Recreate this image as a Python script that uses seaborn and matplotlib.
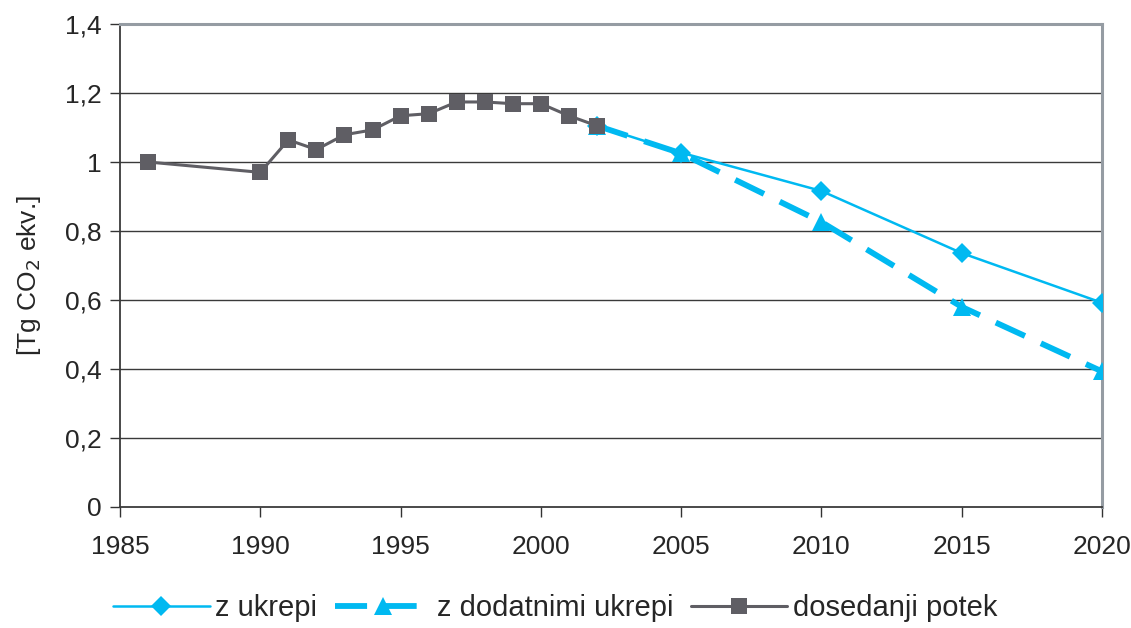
import matplotlib
matplotlib.use("Agg")
import matplotlib.pyplot as plt
from matplotlib.ticker import FuncFormatter
import seaborn as sns
import pandas as pd

# Historical emissions (Tg CO2 eq.)
hist_years = [1986, 1990, 1991, 1992, 1993, 1994, 1995, 1996, 1997, 1998, 1999, 2000, 2001, 2002]
hist_values = [1.0, 0.97, 1.064, 1.036, 1.079, 1.093, 1.134, 1.14, 1.174, 1.174, 1.169, 1.169, 1.134, 1.105]

# Projections
proj_years = [2002, 2005, 2010, 2015, 2020]
with_measures = [1.105, 1.027, 0.916, 0.736, 0.592]
with_additional = [1.105, 1.025, 0.826, 0.58, 0.393]

labels = ["z ukrepi", "z dodatnimi ukrepi", "dosedanji potek"]
x_ticks = [1985, 1990, 1995, 2000, 2005, 2010, 2015, 2020]
y_ticks = [0, 0.2, 0.4, 0.6, 0.8, 1.0, 1.2, 1.4]

sns.set_theme(style="white")
plt.rcParams["font.family"] = ["Liberation Sans", "DejaVu Sans"]

cyan = "#00B9F1"
grey = "#5F5E64"

fig = plt.figure(figsize=(11.31, 6.28), dpi=100)
ax = fig.add_axes([120 / 1131, 1 - 507 / 628, (1102 - 120) / 1131, (507 - 24) / 628])

df_a = pd.DataFrame({"year": proj_years, "value": with_measures})
df_b = pd.DataFrame({"year": proj_years, "value": with_additional})
df_h = pd.DataFrame({"year": hist_years, "value": hist_values})

for yv in y_ticks[1:-1]:
    ax.axhline(yv, color="#3a3a3a", lw=1.0, zorder=0)

sns.lineplot(data=df_a, x="year", y="value", ax=ax, color=cyan, lw=1.8,
             marker="D", markersize=10, markeredgewidth=0, label=labels[0], zorder=3)
sns.lineplot(data=df_b, x="year", y="value", ax=ax, color=cyan, lw=4.2,
             marker="^", markersize=13, markeredgewidth=0, label=labels[1], zorder=4)
ax.lines[-1].set_dashes((5.5, 3))
sns.lineplot(data=df_h, x="year", y="value", ax=ax, color=grey, lw=2.2,
             marker="s", markersize=11.5, markeredgewidth=0, label=labels[2], zorder=5)

ax.set_xlim(1985, 2020)
ax.set_ylim(0, 1.4)
ax.set_xticks(x_ticks)
ax.set_yticks(y_ticks)
ax.yaxis.set_major_formatter(FuncFormatter(lambda v, p: f"{v:g}".replace(".", ",")))
ax.set_xlabel("")
ax.set_ylabel(r"[Tg CO$_2$ ekv.]", fontsize=19)
ax.yaxis.set_label_coords(-0.078, 0.48)
ax.tick_params(axis="both", which="major", labelsize=19, direction="out",
               length=7, width=1.0, color="#333333", pad=6, left=True, bottom=True)
ax.tick_params(axis="x", pad=13)

for side in ("left", "bottom"):
    ax.spines[side].set_color("#3a3a3a")
    ax.spines[side].set_linewidth(1.3)
for side in ("top", "right"):
    ax.spines[side].set_color("#959CA3")
    ax.spines[side].set_linewidth(2.2)

ax.get_legend().remove()
handles, labs = ax.get_legend_handles_labels()
fig.legend(handles, labs, loc="center", bbox_to_anchor=(0.491, 0.032), ncol=3,
           frameon=False, fontsize=21, handlelength=3.3, columnspacing=0.6,
           handletextpad=0.2)

fig.savefig("out.png", dpi=100)
